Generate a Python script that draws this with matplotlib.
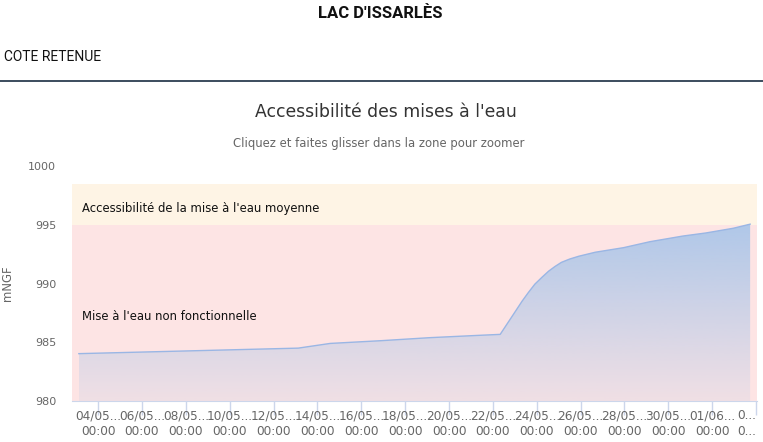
import numpy as np
import pandas as pd
import matplotlib
matplotlib.use("Agg")
import matplotlib.pyplot as plt
import matplotlib.dates as mdates
import matplotlib.transforms as mtransforms
from matplotlib.colors import to_rgb

# lake level (mNGF) over time
times = [
    "2023-05-03 03:00", "2023-05-13 03:00", "2023-05-14 14:00", "2023-05-16 21:00",
    "2023-05-19 03:00", "2023-05-21 12:00", "2023-05-22 08:00", "2023-05-22 21:00",
    "2023-05-23 08:00", "2023-05-23 15:00", "2023-05-23 22:00", "2023-05-24 06:00",
    "2023-05-24 13:00", "2023-05-24 20:00", "2023-05-25 03:00", "2023-05-25 12:00",
    "2023-05-25 22:00", "2023-05-26 16:00", "2023-05-27 23:00", "2023-05-29 04:00",
    "2023-05-30 16:00", "2023-05-31 17:00", "2023-06-01 23:00", "2023-06-02 17:30",
]
levels = [
    984.03, 984.50, 984.90, 985.13,
    985.39, 985.60, 985.67, 987.20,
    988.50, 989.25, 989.95, 990.55,
    991.05, 991.45, 991.80, 992.08,
    992.32, 992.66, 993.05, 993.56,
    994.04, 994.30, 994.70, 995.05,
]

tick_dates = pd.date_range("2023-05-04", "2023-06-03", freq="2D")
tick_labels = [f"{d:%d/%m}...\n00:00" for d in tick_dates[:-1]] + ["0...\n0..."]

band_limits = [980, 995, 998.5]
band_colors = ["#fde4e4", "#fef4e5"]
band_labels = ["Mise à l'eau non fonctionnelle",
               "Accessibilité de la mise à l'eau moyenne"]

W, H = 763, 442
fig = plt.figure(figsize=(W / 100, H / 100), dpi=100)
plt.rcParams["font.family"] = ["DejaVu Sans"]


def px(x, y):
    return x / W, 1 - y / H


# page header
fig.text(*px(380, 13), "LAC D'ISSARLÈS", ha="center", va="center",
         fontsize=12, fontweight="bold", family=["Liberation Sans Narrow", "Roboto"], color="#111111")
fig.text(*px(4, 57), "COTE RETENUE", ha="left", va="center",
         fontsize=10, family=["Liberation Sans Narrow", "Roboto"], color="#111111")
fig.add_artist(plt.Line2D([0, 1], [1 - 81 / H] * 2, color="#2c3e50", lw=1.3,
                          transform=fig.transFigure))

fig.text(*px(386, 112), "Accessibilité des mises à l'eau", ha="center", va="center",
         fontsize=12.4, color="#333333")
fig.text(*px(379, 143), "Cliquez et faites glisser dans la zone pour zoomer",
         ha="center", va="center", fontsize=8.4, color="#666666")

ax = fig.add_axes([72 / W, 41 / H, (757 - 72) / W, (401 - 166) / H])
t = pd.to_datetime(times)
xn = mdates.date2num(t)
y = np.array(levels)

ax.set_ylim(980, 1000)
ax.set_xlim(mdates.date2num(pd.Timestamp("2023-05-02 19:30")),
            mdates.date2num(pd.Timestamp("2023-06-03 01:00")))

for i, c in enumerate(band_colors):
    ax.axhspan(band_limits[i], band_limits[i + 1], color=c, lw=0, zorder=0)
blend = mtransforms.blended_transform_factory(ax.transAxes, ax.transData)
ax.text(0.0145, 996.4, band_labels[1], fontsize=8.4, color="#111111", va="center",
        transform=blend)
ax.text(0.0145, 987.2, band_labels[0], fontsize=8.4, color="#111111", va="center",
        transform=blend)

# gradient area
poly = ax.fill_between(xn, y, 980, facecolor="none", lw=0)
base = np.array(to_rgb("#7cb5ec"))
n = 256
img = np.zeros((n, 1, 4))
img[..., :3] = base
img[..., 3] = np.linspace(0.1, 0.6, n)[:, None]
im = ax.imshow(img, extent=[xn[0], xn[-1], 980, 995], origin="lower",
               aspect="auto", zorder=1)
im.set_clip_path(poly.get_paths()[0], transform=ax.transData)
ax.plot(xn, y, color="#9ab6e4", lw=1, zorder=2)

ax.set_xticks(mdates.date2num(tick_dates))
ax.set_xticklabels(tick_labels, linespacing=1.3)
ax.get_xticklabels()[-1].set_horizontalalignment("right")
ax.set_yticks([980, 985, 990, 995, 1000])
ax.tick_params(axis="x", length=10, width=1, color="#ccd6eb", labelsize=8.7,
               labelcolor="#666666", pad=-4)
ax.tick_params(axis="y", length=0, labelsize=8, labelcolor="#666666", pad=11.5)
for s in ["top", "right", "left"]:
    ax.spines[s].set_visible(False)
ax.spines["bottom"].set_color("#ccd6eb")
ax.set_ylabel("mNGF", fontsize=8.4, color="#666666")
ax.yaxis.set_label_coords((14 - 72) / 685, 0.5)

fig.savefig("out.png", dpi=100)
